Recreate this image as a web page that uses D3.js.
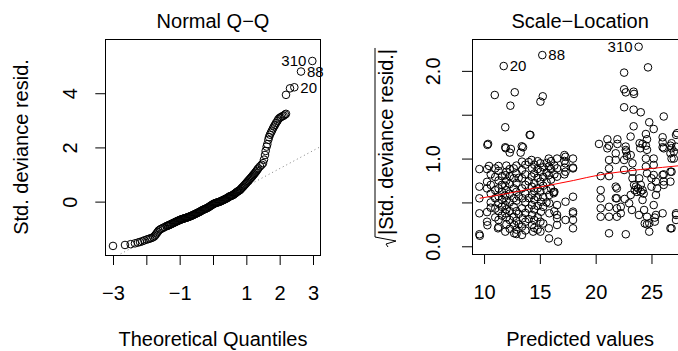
<!doctype html>
<html>
<head>
<meta charset="utf-8"/>
<title>Normal Q-Q / Scale-Location</title>
<style>
  body, html { margin: 0; padding: 0; background: #fff; }
  svg { display: block; font-family: "Liberation Sans", Arial, Helvetica, sans-serif; }
  .pt { fill: none; stroke: #000; stroke-width: 1; }
</style>
<script src="https://d3js.org/d3.v7.min.js"></script>
</head>
<body>
<svg width="678" height="351"></svg>
<script>
// ---- data ----
var qqTheo = [-3.00,-2.64,-2.47,-2.34,-2.25,-2.19,-2.12,-2.06,-1.99,-1.94,
  -1.89,-1.84,-1.79,-1.75,-1.72,-1.69,-1.66,-1.63,-1.59,-1.55,
  -1.50,-1.45,-1.39,-1.34,-1.29,-1.24,-1.19,-1.14,-1.09,-1.04,
  -0.99,-0.94,-0.89,-0.84,-0.79,-0.74,-0.69,-0.64,-0.59,-0.54,
  -0.49,-0.44,-0.39,-0.34,-0.29,-0.24,-0.19,-0.14,-0.09,-0.04,
  0.01,0.06,0.11,0.16,0.21,0.26,0.31,0.36,0.41,0.46,
  0.51,0.56,0.61,0.66,0.71,0.76,0.81,0.86,0.91,0.96,
  1.01,1.06,1.11,1.16,1.21,1.26,1.31,1.36,1.41,1.46,
  1.50,1.53,1.56,1.58,1.61,1.63,1.66,1.68,1.71,1.74,
  1.77,1.80,1.83,1.86,1.89,1.93,1.96,2.00,2.04,2.08,
  2.12,2.16,2.19,2.19,2.31,2.44,2.64,2.98,
  -1.365,-1.315,-1.265,-1.215,-1.165,-1.115,-1.065,-1.015,-0.965,-0.915,
  -0.865,-0.815,-0.765,-0.715,-0.665,-0.615,-0.565,-0.515,-0.465,-0.415,
  -0.365,-0.315,-0.265,-0.215,-0.165,-0.115,-0.065,-0.015,0.035,0.085,
  0.135,0.185,0.235,0.285,0.335,0.385,0.435,0.485,0.535,0.585,
  0.635,0.685,0.735,0.785,0.835,0.885,0.935,0.985,1.035,1.085,
  1.135,1.185,1.235,1.285,1.335];
var qqResid = [-1.635,-1.60,-1.57,-1.54,-1.51,-1.49,-1.46,-1.43,-1.40,-1.38,
  -1.36,-1.34,-1.31,-1.27,-1.22,-1.17,-1.12,-1.07,-1.03,-1.00,
  -0.97,-0.94,-0.90,-0.88,-0.85,-0.82,-0.79,-0.76,-0.73,-0.70,
  -0.675,-0.65,-0.63,-0.61,-0.59,-0.57,-0.545,-0.52,-0.49,-0.46,
  -0.43,-0.40,-0.37,-0.33,-0.30,-0.27,-0.245,-0.21,-0.17,-0.13,
  -0.09,-0.06,-0.04,-0.02,0.00,0.03,0.06,0.09,0.12,0.16,
  0.20,0.22,0.25,0.30,0.35,0.39,0.43,0.50,0.56,0.63,
  0.70,0.77,0.84,0.91,0.985,1.06,1.14,1.23,1.30,1.36,
  1.42,1.55,1.72,1.87,2.03,2.12,2.28,2.38,2.47,2.55,
  2.62,2.70,2.77,2.83,2.90,2.97,3.04,3.09,3.12,3.15,
  3.17,3.21,3.24,3.94,4.18,4.22,4.80,5.19,
  -0.89,-0.865,-0.835,-0.805,-0.775,-0.745,-0.715,-0.69,-0.66,-0.64,
  -0.62,-0.60,-0.58,-0.555,-0.53,-0.505,-0.475,-0.445,-0.415,-0.385,
  -0.35,-0.315,-0.285,-0.26,-0.23,-0.19,-0.15,-0.11,-0.075,-0.05,
  -0.03,-0.01,0.015,0.045,0.075,0.105,0.14,0.18,0.21,0.235,
  0.275,0.325,0.37,0.41,0.465,0.53,0.595,0.665,0.735,0.805,
  0.875,0.945,1.02,1.10,1.185];
var qqLine = [-0.10, 0.66];            // intercept, slope of the dotted reference line
var idLabels = ["310", "88", "20"];
var qqLabelIdx = [107, 106, 105];
var qqLabelSide = ["left", "right", "right"];

// fitted value, sqrt|std. deviance resid.| ; the first three are the labelled ones
var slPoints = [
  [23.85,2.275],[15.22,2.18],[11.76,2.055],
  [24.69,2.04],[22.55,1.98],[10.96,1.725],[12.75,1.756],[12.36,1.603],[15.26,1.71],[15.05,1.649],
  [22.55,1.79],[22.7,1.755],[23.4,1.763],[23.44,1.737],
  [22.55,1.585],[23.4,1.558],[24.04,1.528],[26.1,1.48],[24.8,1.414],[23.4,1.368],[25.2,1.337],[24.5,1.28],[27.3,1.29],
  [11.9,1.357],[14.15,1.27],[10.36,1.167],[11.9,1.129],[13.38,1.14],[12.4,1.11],[13.28,1.068],[12.3,1.068],
  [20.3,1.167],[21.05,1.22],[21.2,1.147],[21.95,1.22],[21.95,1.167],[24.2,1.167],[24.5,1.147],[24.6,1.22],
  [26.0,1.243],[26.0,1.186],[26.0,1.129],[26.7,1.147],[23.13,1.251],[22.69,1.137],[22.75,1.08],[22.8,1.03],
  [23.94,1.175],[24.0,1.118],[24.6,1.1],[26.8,1.175],[26.8,1.118],[26.7,1.06],[26.8,1.0],[27.2,1.27],
  [21.05,1.117],[21.8,1.06],[21.8,0.984],[22.7,1.098],[22.55,0.984],[22.55,0.87],[23.14,1.04],[23.3,0.946],
  [23.3,0.85],[23.3,0.775],[23.44,0.70],[23.9,0.775],[24.04,0.70],[24.04,0.622],[24.2,0.528],[24.34,0.414],
  [24.6,0.337],[24.8,0.262],[24.5,1.0],[24.5,0.908],[24.6,0.832],[25.2,1.0],[25.2,0.927],[25.2,0.813],
  [25.4,0.737],[25.5,0.66],[25.4,0.585],[25.2,0.47],[25.4,0.357],[26.0,0.813],[26.0,0.376],[26.1,0.70],
  [26.7,0.737],[26.7,0.85],[27.0,1.079],[27.0,1.0],[27.2,0.357],[26.7,0.205],[27.2,1.136],[26.1,1.117],
  [24.8,0.167],[24.4,0.26],[23.14,0.585],[23.0,0.49],[22.25,0.45],[22.25,0.376],[21.2,0.45],[21.2,0.337],
  [25.0,0.68],[25.0,0.775],[20.45,0.64],[20.45,0.547],[20.45,0.433],[20.45,0.337],[21.2,0.984],[21.2,0.888],
  [21.9,0.66],[21.9,0.547],[21.9,0.433],[21.9,0.337],[21.2,0.148],[22.7,0.137],[20.45,0.8],[21.2,0.8],
  [22.6,0.54],[23.25,0.414],[23.88,0.357],[24.6,0.25],[25.3,0.327],[25.3,0.281],[26.8,0.205],[27.2,0.376],
  [27.2,0.30],[26.8,0.85],[26.1,0.738],[26.1,0.82],[21.8,0.68],[21.8,0.548],
  [23.5,0.64],[23.7,0.62],[23.8,0.66],[23.6,0.68],[24.2,0.64],[24.3,0.60],
  [9.58,0.88],[9.58,0.68],[9.58,0.547],[9.58,0.376],[9.58,0.137],[9.62,0.12],
  [10.27,0.88],[10.27,0.735],[10.27,0.66],[10.27,0.39],[10.27,0.28],[10.3,0.24],
  [11.0,0.888],[11.0,0.79],[11.0,0.64],[11.0,0.547],[11.0,0.43],[11.0,0.33],
  [11.9,0.81],[11.9,0.69],[11.9,0.58],[11.9,0.47],[11.9,0.376],[11.9,0.167],
  [12.66,0.888],[12.66,0.775],[12.66,0.66],[12.66,0.547],[12.66,0.45],[12.66,0.337],[12.7,0.243],[12.7,0.148],
  [13.4,0.965],[13.4,0.87],[13.4,0.775],[13.4,0.66],[13.45,0.547],[13.4,0.433],[13.45,0.32],[13.4,0.224],[13.4,0.129],
  [14.26,0.984],[14.3,0.888],[14.26,0.794],[14.28,0.68],[14.3,0.585],[14.28,0.47],[14.3,0.357],[14.3,0.243],[14.4,0.167],
  [15.05,0.946],[15.05,0.85],[15.05,0.737],[15.05,0.622],[15.1,0.508],[15.1,0.394],[15.05,0.28],[15.05,0.167],
  [15.8,1.0],[15.8,0.91],[15.8,0.81],[15.85,0.585],[15.85,0.49],[15.85,0.376],[15.8,0.205],[16.63,0.053],[15.82,0.09],
  [16.54,1.0],[16.54,0.888],[16.54,0.794],[16.54,0.47],[16.54,0.357],[16.54,0.243],[16.24,0.62],[16.24,0.605],[16.54,0.32],
  [17.3,1.02],[17.3,0.946],[17.3,0.85],[17.3,0.508],[17.2,1.04],[17.2,0.973],[17.2,0.897],[17.2,0.82],[17.3,0.30],
  [17.97,1.0],[17.97,0.888],[17.97,0.565],[17.97,0.376],[17.97,0.3],[17.97,0.205],[17.97,0.897],[17.97,0.395],
  [10.45,0.916],[11.3,0.916],[11.25,0.205],[10.3,1.156],[11.94,1.118],[13.49,1.129],[14.09,1.27],
  [10.6,0.82],[10.6,0.70],[10.6,0.60],[10.6,0.50],[10.6,0.44],
  [11.3,0.86],[11.3,0.75],[11.3,0.66],[11.3,0.57],[11.3,0.49],[11.3,0.40],[11.3,0.30],[11.3,0.22],
  [11.6,0.80],[11.6,0.70],[11.6,0.62],[11.6,0.53],[11.6,0.45],[11.6,0.35],
  [12.0,0.92],[12.0,0.85],[12.0,0.75],[12.0,0.64],[12.0,0.52],[12.0,0.42],[12.0,0.33],[12.0,0.25],
  [12.3,0.88],[12.3,0.80],[12.3,0.71],[12.3,0.60],[12.3,0.50],[12.3,0.40],[12.3,0.30],[12.3,0.20],
  [12.9,0.92],[12.9,0.83],[12.9,0.72],[12.9,0.62],[12.9,0.52],[12.9,0.40],[12.9,0.29],[12.9,0.19],[12.9,0.14],
  [13.1,0.78],[13.1,0.57],[13.1,0.37],[13.1,0.25],
  [13.7,0.93],[13.7,0.82],[13.7,0.70],[13.7,0.60],[13.7,0.50],[13.7,0.38],[13.7,0.28],[13.7,0.18],
  [14.0,0.96],[14.0,0.74],[14.0,0.55],[14.0,0.43],[14.0,0.31],
  [14.5,0.93],[14.5,0.83],[14.5,0.72],[14.5,0.63],[14.5,0.53],[14.5,0.42],[14.5,0.30],[14.5,0.21],
  [14.8,0.97],[14.8,0.88],[14.8,0.78],[14.8,0.66],[14.8,0.56],[14.8,0.46],[14.8,0.33],[14.8,0.19],
  [15.3,0.90],[15.3,0.79],[15.3,0.69],[15.3,0.56],[15.3,0.45],[15.3,0.26],
  [15.6,0.95],[15.6,0.84],[15.6,0.73],[15.6,0.64],[15.6,0.50],
  [16.0,0.97],[16.0,0.88],[16.0,0.76],[16.0,0.66],
  [16.3,0.92],[16.3,0.82],[16.3,0.62],[16.3,0.40]
];
var slLabelIdx = [0, 1, 2];
var slLabelSide = ["left", "right", "right"];
var slSmoothX = [9.6, 12, 15, 18, 20.4, 22, 24, 26, 27.6];
var slSmoothY = [0.547, 0.60, 0.675, 0.75, 0.815, 0.845, 0.875, 0.90, 0.92];

var qqXTicks = [-3, -2, -1, 0, 1, 2, 3];
var qqXTickLabels = ["\u22123", "", "\u22121", "", "1", "2", "3"];
var qqYTicks = [0, 2, 4];
var qqYTickLabels = ["0", "2", "4"];
var slXTicks = [10, 15, 20, 25];
var slXTickLabels = ["10", "15", "20", "25"];
var slYTicks = [0, 0.5, 1, 1.5, 2];
var slYTickLabels = ["0.0", "", "1.0", "", "2.0"];

// ---- drawing ----
var svg = d3.select("svg");
var FONT = 20;

function panel(opt) {
  var x = d3.scaleLinear().domain(opt.xDomain).range(opt.xRange);
  var y = d3.scaleLinear().domain(opt.yDomain).range(opt.yRange);
  var g = svg.append("g");

  var clipId = "clip-" + opt.id;
  svg.append("clipPath").attr("id", clipId)
    .append("rect")
      .attr("x", opt.xRange[0]).attr("y", opt.yRange[1])
      .attr("width", opt.xRange[1] - opt.xRange[0])
      .attr("height", opt.yRange[0] - opt.yRange[1]);

  // axes
  g.append("g")
    .attr("transform", "translate(0," + opt.yRange[0] + ")")
    .call(d3.axisBottom(x).tickValues(opt.xTicks)
      .tickFormat(function(d, i) { return opt.xTickLabels[i]; })
      .tickSize(10).tickPadding(21).tickSizeOuter(0))
    .attr("font-size", FONT).attr("font-family", null)
    .call(function(a) { a.select(".domain").remove(); });

  var ya = g.append("g")
    .attr("transform", "translate(" + opt.xRange[0] + ",0)")
    .call(d3.axisLeft(y).tickValues(opt.yTicks)
      .tickFormat(function(d, i) { return opt.yTickLabels[i]; })
      .tickSize(10).tickSizeOuter(0))
    .attr("font-size", FONT).attr("font-family", null)
    .call(function(a) { a.select(".domain").remove(); });
  ya.selectAll(".tick text")
    .attr("x", 0).attr("dy", null)
    .attr("text-anchor", "middle")
    .attr("transform", "translate(" + (-opt.yLabelOffset) + ",0) rotate(-90)");

  // box
  g.append("rect")
    .attr("x", Math.round(opt.xRange[0]) + 0.5)
    .attr("y", Math.round(opt.yRange[1]) + 0.5)
    .attr("width", Math.round(opt.xRange[1] - opt.xRange[0]))
    .attr("height", Math.round(opt.yRange[0] - opt.yRange[1]))
    .attr("fill", "none").attr("stroke", "#000");

  // titles
  var cx = (opt.xRange[0] + opt.xRange[1]) / 2;
  g.append("text").attr("x", cx).attr("y", 28)
    .attr("text-anchor", "middle").attr("font-size", FONT).text(opt.title);
  g.append("text").attr("x", cx).attr("y", 346)
    .attr("text-anchor", "middle").attr("font-size", FONT).text(opt.xTitle);

  return {x: x, y: y, g: g, clip: "url(#" + clipId + ")"};
}

function addLabels(p, pts, idx, side) {
  idx.forEach(function(k, j) {
    var px = p.x(pts[k][0]), py = p.y(pts[k][1]);
    p.g.append("text")
      .attr("x", side[j] === "left" ? px - 6 : px + 6)
      .attr("y", py)
      .attr("dy", "0.36em")
      .attr("text-anchor", side[j] === "left" ? "end" : "start")
      .attr("font-size", 15)
      .text(idLabels[j]);
  });
}

// Normal Q-Q
var qq = panel({
  id: "qq", xDomain: [-3.231, 3.231], xRange: [105.3, 320.7],
  yDomain: [-1.97, 5.99], yRange: [255, 39.3],
  xTicks: qqXTicks, xTickLabels: qqXTickLabels,
  yTicks: qqYTicks, yTickLabels: qqYTickLabels, yLabelOffset: 28,
  title: "Normal Q\u2212Q", xTitle: "Theoretical Quantiles"
});
qq.g.append("text")
  .attr("transform", "translate(28,147) rotate(-90)")
  .attr("text-anchor", "middle").attr("font-size", FONT)
  .text("Std. deviance resid.");

var qqPts = qqTheo.map(function(d, i) { return [d, qqResid[i]]; });
qq.g.append("line")
  .attr("clip-path", qq.clip)
  .attr("x1", qq.x(-3.3)).attr("y1", qq.y(qqLine[0] + qqLine[1] * -3.3))
  .attr("x2", qq.x(3.3)).attr("y2", qq.y(qqLine[0] + qqLine[1] * 3.3))
  .attr("stroke", "#7f7f7f").attr("stroke-dasharray", "1,3");
qq.g.append("g").attr("clip-path", qq.clip)
  .selectAll("circle").data(qqPts).enter().append("circle")
    .attr("class", "pt")
    .attr("cx", function(d) { return qq.x(d[0]); })
    .attr("cy", function(d) { return qq.y(d[1]); })
    .attr("r", 3.8);
addLabels(qq, qqPts, qqLabelIdx, qqLabelSide);

// Scale-Location
var sl = panel({
  id: "sl", xDomain: [8.92, 28.3], xRange: [472, 688.3],
  yDomain: [-0.088, 2.36], yRange: [254, 39.3],
  xTicks: slXTicks, xTickLabels: slXTickLabels,
  yTicks: slYTicks, yTickLabels: slYTickLabels, yLabelOffset: 32,
  title: "Scale\u2212Location", xTitle: "Predicted values"
});

var ylab = sl.g.append("g").attr("transform", "translate(393,148) rotate(-90)");
var ylabText = ylab.append("text").attr("font-size", FONT).text("|Std. deviance resid.|");
var w = ylabText.node().getComputedTextLength();
var x0 = -(w + 12) / 2 + 12;
ylabText.attr("x", x0);
ylab.append("path")
  .attr("d", "M" + (x0 - 12) + ",-5 L" + (x0 - 9) + ",-7 L" + (x0 - 6) + ",3 L" + (x0 - 2) + ",-18 H" + (x0 + w + 1))
  .attr("fill", "none").attr("stroke", "#000");

sl.g.append("g").attr("clip-path", sl.clip)
  .selectAll("circle").data(slPoints).enter().append("circle")
    .attr("class", "pt")
    .attr("cx", function(d) { return sl.x(d[0]); })
    .attr("cy", function(d) { return sl.y(d[1]); })
    .attr("r", 3.8);

sl.g.append("path")
  .datum(slSmoothX.map(function(d, i) { return [d, slSmoothY[i]]; }))
  .attr("fill", "none").attr("stroke", "#ff0000").attr("stroke-width", 1)
  .attr("d", d3.line()
    .x(function(d) { return sl.x(d[0]); })
    .y(function(d) { return sl.y(d[1]); })
    .curve(d3.curveMonotoneX));
addLabels(sl, slPoints, slLabelIdx, slLabelSide);
</script>
</body>
</html>
